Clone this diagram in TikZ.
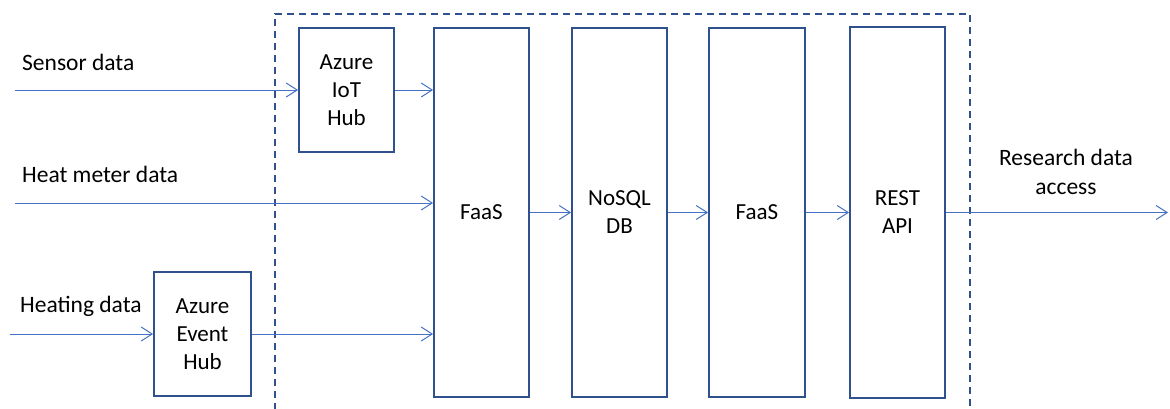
\documentclass[tikz,border=0pt]{standalone}
\usepackage{fontspec}
\setmainfont{Carlito}
\usetikzlibrary{arrows.meta}
\definecolor{boxblue}{HTML}{2F528F}
\definecolor{arrblue}{HTML}{4472C4}
\tikzset{
  blk/.style={draw=boxblue, line width=1.8pt, rectangle, inner sep=0pt, align=center,
    font=\fontsize{23}{28}\selectfont},
  flow/.style={draw=arrblue, line width=1pt, -{Straight Barb[length=11pt,width=14pt,line width=1pt]}},
  lbl/.style={inner sep=0pt, font=\fontsize{23.5}{29}\selectfont},
  frame/.style={draw=boxblue, line width=1.8pt, dash pattern=on 7pt off 5pt}
}
\begin{document}
\begin{tikzpicture}[x=1pt,y=-1pt]
\useasboundingbox (0,0) rectangle (1170,408);
\clip (0,0) rectangle (1170,408);
\draw[frame] (275,410) -- (275,14) -- (970,14) -- (970,410);
\node[blk, minimum width=95pt, minimum height=124pt] (iot) at (346.5,90) {Azure\\IoT\\Hub};
\node[blk, minimum width=97pt, minimum height=124pt] (event) at (202.5,334) {Azure\\Event\\Hub};
\node[blk, minimum width=95pt, minimum height=369pt] (faas1) at (481.5,212.5) {FaaS};
\node[blk, minimum width=95pt, minimum height=369pt] (nosql) at (619.5,212.5) {NoSQL\\DB};
\node[blk, minimum width=96pt, minimum height=369pt] (faas2) at (757,212.5) {FaaS};
\node[blk, minimum width=95pt, minimum height=371pt] (rest) at (897.5,212.5) {REST\\API};
\coordinate (sIn) at (15,90);
\coordinate (hIn) at (15,203);
\coordinate (eIn) at (10,334);
\coordinate (out) at (1168,212.5);
\node[lbl, anchor=base west] (lsensor) at (22,70) {Sensor data};
\node[lbl, anchor=base west] (lheat) at (22,182) {Heat meter data};
\node[lbl, anchor=base west] (lheating) at (20,312) {Heating data};
\node[lbl, align=center, anchor=base] (lres) at (1066,194) {Research data\\access};
\draw[flow] (sIn) -- (iot.west);
\draw[flow] (iot.east) -- (iot.east -| faas1.west);
\draw[flow] (hIn) -- (hIn -| faas1.west);
\draw[flow] (eIn) -- (event.west);
\draw[flow] (event.east) -- (event.east -| faas1.west);
\draw[flow] (faas1.east) -- (nosql.west);
\draw[flow] (nosql.east) -- (faas2.west);
\draw[flow] (faas2.east) -- (rest.west);
\draw[flow] (rest.east) -- (out);
\end{tikzpicture}
\end{document}
